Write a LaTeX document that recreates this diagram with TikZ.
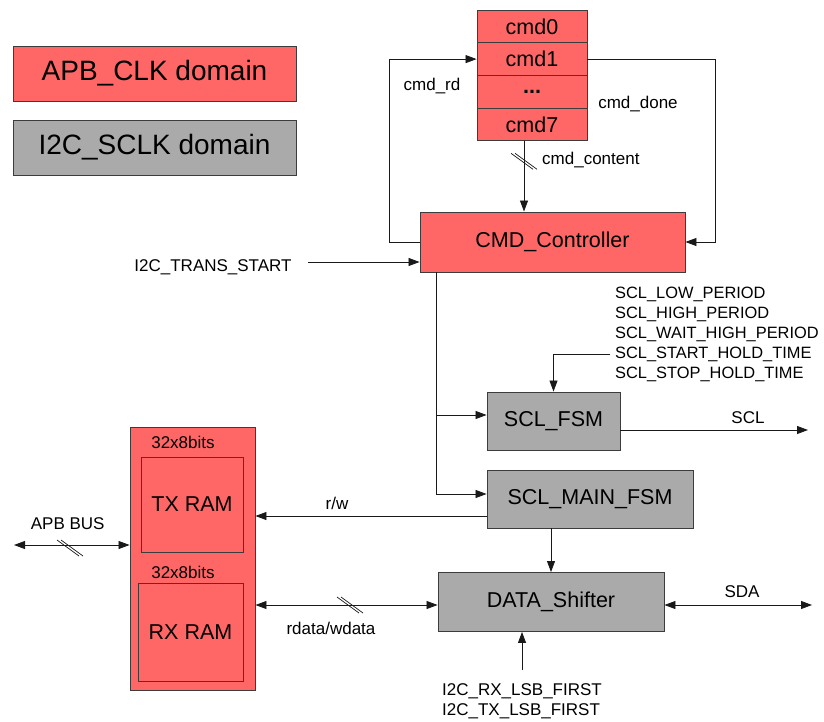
\documentclass[tikz,border=0pt]{standalone}
\usepackage{fontspec}
\setmainfont{Liberation Sans}
\usetikzlibrary{arrows.meta,positioning,calc}
\definecolor{redfill}{RGB}{255,102,102}
\definecolor{grayfill}{RGB}{170,170,170}
\definecolor{edge}{RGB}{60,60,60}
\tikzset{
  blk/.style={draw=edge,line width=0.9pt,inner sep=0pt,font=\fontsize{21.5}{25}\selectfont},
  redblk/.style={blk,fill=redfill},
  grayblk/.style={blk,fill=grayfill},
  legend/.style={blk,font=\fontsize{28}{32}\selectfont,minimum width=283pt,minimum height=55pt},
  lbl/.style={inner sep=0pt,font=\fontsize{17}{20}\selectfont},
  conn/.style={line width=0.8pt,draw=black!90},
  arr/.style={conn,-{Triangle[length=11pt,width=8pt]}},
  darr/.style={conn,{Triangle[length=11pt,width=8pt]}-{Triangle[length=11pt,width=8pt]}},
  slash/.style={line width=0.7pt,draw=black!90}
}
\newcommand{\busslash}[1]{%
  \draw[slash] ($(#1)+(-13,-8)$) -- ($(#1)+(9,8)$);
  \draw[slash] ($(#1)+(-9,-8)$) -- ($(#1)+(13,8)$);}
\begin{document}
\begin{tikzpicture}[x=1pt,y=-1pt]
\useasboundingbox (0,0) rectangle (824,722);

% legend
\node[legend,fill=redfill] (leg1) at (154.5,73.5) {APB\_CLK domain};
\node[legend,fill=grayfill] (leg2) at (154.5,147.5) {I2C\_SCLK domain};

% command stack
\node[redblk,minimum width=110pt,minimum height=32.7pt] (cmd0) at (532,26.4) {cmd0};
\node[redblk,minimum width=110pt,minimum height=32.7pt] (cmd1) at (532,59.1) {cmd1};
\node[redblk,minimum width=110pt,minimum height=32.7pt] (cmdd) at (532,91.8) {\textbf{...}};
\node[redblk,minimum width=110pt,minimum height=32.7pt] (cmd7) at (532,124.5) {cmd7};

% controller
\node[redblk,minimum width=265pt,minimum height=60pt] (cmdc) at (552.5,242) {CMD\_Controller};

% FSMs
\node[grayblk,minimum width=133pt,minimum height=58pt] (sclfsm) at (553.5,421) {SCL\_FSM};
\node[grayblk,minimum width=206pt,minimum height=58pt] (sclmain) at (590,499) {SCL\_MAIN\_FSM};
\node[grayblk,minimum width=226pt,minimum height=59pt] (data) at (551,602) {DATA\_Shifter};

% RAM
\node[redblk,minimum width=125pt,minimum height=263pt] (ram) at (192.5,558.5) {};
\node[redblk,minimum width=102pt,minimum height=95pt] (tx) at (192,504.5) {TX RAM};
\node[redblk,minimum width=105pt,minimum height=98pt] (rx) at (190.5,632) {RX RAM};
\node[lbl] (txsz) at (183,442) {32x8bits};
\node[lbl] (rxsz) at (183,572) {32x8bits};

% cmd_rd / cmd_done / cmd_content
\draw[arr] (cmdc.west) -- ++(-30,0) |- (cmd1.west);
\node[lbl] (lrd) at (432,86) {cmd\_rd};
\draw[arr] (cmd1.east) -- ++(128,0) |- (cmdc.east);
\node[lbl] (ldone) at (638,104) {cmd\_done};
\draw[arr] ([xshift=-8pt]cmd7.south) -- ([xshift=-8pt]cmd7.south |- cmdc.north);
\coordinate (s1) at ($([xshift=-8pt]cmd7.south)+(0,20)$);
\busslash{s1}
\node[lbl,anchor=west] (lcont) at (542,160) {cmd\_content};

% trans start
\node[lbl] (lts) at (213,267) {I2C\_TRANS\_START};
\coordinate (tsL) at (308,262);
\draw[arr] (tsL) -- (tsL -| cmdc.west);

% vertical bus to FSMs
\coordinate (vtop) at ([xshift=17pt]cmdc.south west);
\coordinate (fsmin) at ([yshift=6pt]sclfsm.west);
\draw[arr] (vtop) |- ([yshift=5pt]sclmain.west);
\draw[arr] (vtop |- fsmin) -- (fsmin);

% SCL parameters
\node[lbl,anchor=west,align=left,font=\fontsize{16.4}{20}\selectfont] (params) at (615,334) {SCL\_LOW\_PERIOD\\SCL\_HIGH\_PERIOD\\SCL\_WAIT\_HIGH\_PERIOD\\SCL\_START\_HOLD\_TIME\\SCL\_STOP\_HOLD\_TIME};
\draw[arr] ([xshift=-5pt,yshift=-20pt]params.west) -| (sclfsm.north);

% SCL out
\coordinate (sclend) at (808,430);
\draw[arr] ([yshift=-9pt]sclfsm.east) -- (sclend);
\node[lbl] (lscl) at (748,418) {SCL};

% SCL_MAIN -> DATA
\draw[arr] (sclmain.south -| data.north) -- (data.north);

% r/w
\draw[arr] ([yshift=-17pt]sclmain.west) -- ([yshift=-17pt]sclmain.west -| ram.east);
\node[lbl] (lrw) at (337,503) {r/w};

% rdata/wdata
\draw[darr] ([yshift=-3pt]data.west -| ram.east) -- ([yshift=-3pt]data.west);
\coordinate (s2) at (350,605);
\busslash{s2}
\node[lbl] (lrdw) at (331,628) {rdata/wdata};

% SDA
\coordinate (sdaend) at (812,605);
\draw[darr] ([yshift=-3pt]data.east) -- (sdaend);
\node[lbl] (lsda) at (742,592) {SDA};

% APB bus
\coordinate (apbL) at (14,545);
\draw[darr] (apbL) -- (apbL -| ram.west);
\coordinate (s3) at (70,548);
\busslash{s3}
\node[lbl] (lapb) at (67.7,524) {APB BUS};

% LSB first
\coordinate (lsbtop) at (522,670);
\draw[arr] (lsbtop) -- (lsbtop |- data.south);
\node[lbl,align=left] (llsb) at (522,701) {I2C\_RX\_LSB\_FIRST\\I2C\_TX\_LSB\_FIRST};
\end{tikzpicture}
\end{document}
